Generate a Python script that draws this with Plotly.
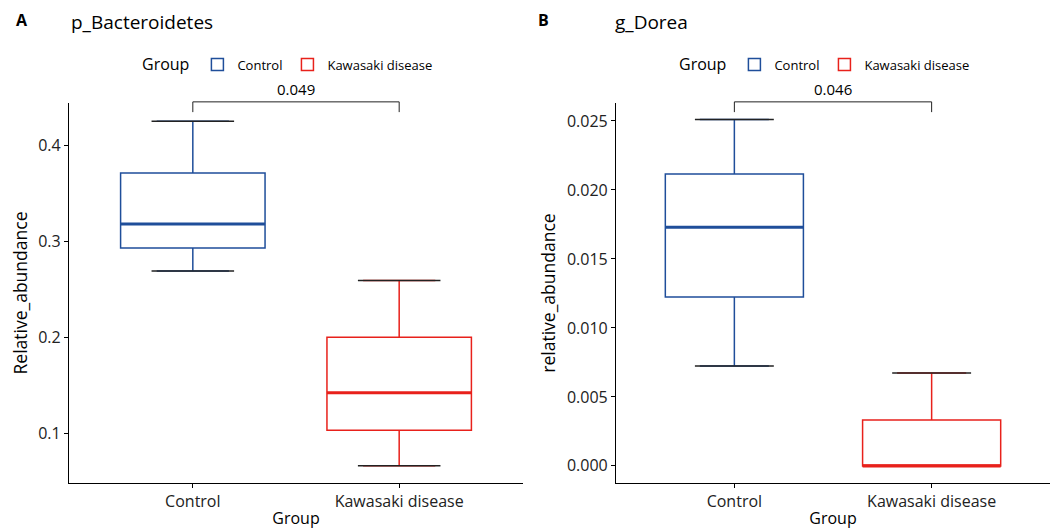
import plotly.graph_objects as go

W, H = 1052, 529
FONT = "Open Sans"

groups = ["Control", "Kawasaki disease"]
colors = ["#1F4E9A", "#E8211B"]

# Panel A: p_Bacteroidetes
a_lower = [0.269, 0.066]
a_q1 = [0.293, 0.103]
a_median = [0.318, 0.142]
a_q3 = [0.371, 0.200]
a_upper = [0.425, 0.259]
a_pval = "0.049"

# Panel B: g_Dorea
b_lower = [0.00724, 0.0]
b_q1 = [0.01224, 0.0]
b_median = [0.0173, 0.0]
b_q3 = [0.02115, 0.00333]
b_upper = [0.0251, 0.00674]
b_pval = "0.046"

a_ticks = [0.1, 0.2, 0.3, 0.4]
b_ticks = [0.000, 0.005, 0.010, 0.015, 0.020, 0.025]

BOXW = 0.7
CAPW = 0.4

fig = go.Figure()

def px_x(p):
    return p / W

def px_y(p):
    return 1 - p / H

panels = [
    dict(xa="x", ya="y", leg="legend", lo=a_lower, q1=a_q1, med=a_median, q3=a_q3, up=a_upper),
    dict(xa="x2", ya="y2", leg="legend2", lo=b_lower, q1=b_q1, med=b_median, q3=b_q3, up=b_upper),
]

shapes = []
for p in panels:
    for i, g in enumerate(groups):
        fig.add_trace(go.Box(
            x=[g], q1=[p["q1"][i]], median=[p["med"][i]], q3=[p["q3"][i]],
            lowerfence=[p["lo"][i]], upperfence=[p["up"][i]],
            name=g, legendgroup=g, legend=p["leg"],
            width=BOXW, fillcolor="rgba(255,255,255,0)",
            line=dict(color=colors[i], width=1.5),
            boxpoints=False, hoverinfo="skip",
            xaxis=p["xa"], yaxis=p["ya"],
        ))
        # thick median
        shapes.append(dict(type="line", xref=p["xa"], yref=p["ya"],
                           x0=i - BOXW / 2, x1=i + BOXW / 2,
                           y0=p["med"][i], y1=p["med"][i],
                           line=dict(color=colors[i], width=3), layer="above"))
        # whisker caps
        for v in (p["lo"][i], p["up"][i]):
            if v == p["q1"][i]:
                continue
            shapes.append(dict(type="line", xref=p["xa"], yref=p["ya"],
                               x0=i - CAPW / 2, x1=i + CAPW / 2, y0=v, y1=v,
                               line=dict(color="#222222", width=1.5), layer="above"))

# significance brackets (in axis-domain units on y)
br_top, br_tip = 1.003, 0.976
for xa, ya in (("x", "y"), ("x2", "y2")):
    shapes.append(dict(type="path", xref=xa, yref=f"{ya} domain",
                       path=f"M 0,{br_tip} L 0,{br_top} L 1,{br_top} L 1,{br_tip}",
                       line=dict(color="#222222", width=1)))

annotations = [
    dict(text="<b>A</b>", x=px_x(14), y=px_y(20), xref="paper", yref="paper",
         xanchor="left", yanchor="middle", showarrow=False, font=dict(size=16, color="black")),
    dict(text="<b>B</b>", x=px_x(536), y=px_y(20), xref="paper", yref="paper",
         xanchor="left", yanchor="middle", showarrow=False, font=dict(size=16, color="black")),
    dict(text="p_Bacteroidetes", x=px_x(69), y=px_y(22), xref="paper", yref="paper",
         xanchor="left", yanchor="middle", showarrow=False, font=dict(size=19, color="black")),
    dict(text="g_Dorea", x=px_x(613), y=px_y(22), xref="paper", yref="paper",
         xanchor="left", yanchor="middle", showarrow=False, font=dict(size=19, color="black")),
    dict(text=a_pval, x=0.5, y=1.036, xref="x", yref="y domain", xanchor="center",
         yanchor="middle", showarrow=False, font=dict(size=15, color="black")),
    dict(text=b_pval, x=0.5, y=1.036, xref="x2", yref="y2 domain", xanchor="center",
         yanchor="middle", showarrow=False, font=dict(size=15, color="black")),
]

axis_common = dict(showline=True, linecolor="black", linewidth=1.2, ticks="outside",
                   ticklen=4, tickwidth=1.2, tickcolor="black", showgrid=False,
                   zeroline=False, tickfont=dict(size=16, color="#222222"))

legend_common = dict(orientation="h", yanchor="middle", xanchor="left",
                     font=dict(size=13, color="black"),
                     title=dict(text="Group", font=dict(size=16, color="black"), side="left"),
                     bgcolor="rgba(0,0,0,0)", itemwidth=30, tracegroupgap=0)

xt = dict(text="Group", standoff=2, font=dict(size=16, color="black"))
fig.update_layout(
    width=W, height=H, margin=dict(l=0, r=0, t=0, b=0),
    paper_bgcolor="white", plot_bgcolor="white",
    font=dict(family=FONT, color="black"),
    boxmode="overlay", showlegend=True,
    xaxis=dict(domain=[px_x(69), px_x(523)], anchor="y", type="category",
               categoryorder="array", categoryarray=groups, range=[-0.6, 1.6],
               title=xt, **axis_common),
    yaxis=dict(domain=[px_y(483), px_y(103)], anchor="x", range=[0.048, 0.444],
               tickvals=a_ticks, tickformat=".1f",
               title=dict(text="Relative_abundance", standoff=6,
                          font=dict(size=17.5, color="black")), **axis_common),
    xaxis2=dict(domain=[px_x(616), px_x(1050)], anchor="y2", type="category",
                categoryorder="array", categoryarray=groups, range=[-0.6, 1.6],
                title=xt, **axis_common),
    yaxis2=dict(domain=[px_y(483), px_y(103)], anchor="x2", range=[-0.00124, 0.0263],
                tickvals=b_ticks, tickformat=".3f",
                title=dict(text="relative_abundance", standoff=6,
                           font=dict(size=17.5, color="black")), **axis_common),
    legend=dict(x=px_x(140), y=px_y(65), **legend_common),
    legend2=dict(x=px_x(677), y=px_y(65), **legend_common),
    shapes=shapes, annotations=annotations,
)

fig.write_html("out.html", config={"displayModeBar": False},
               post_script="document.body.style.margin='0';")
